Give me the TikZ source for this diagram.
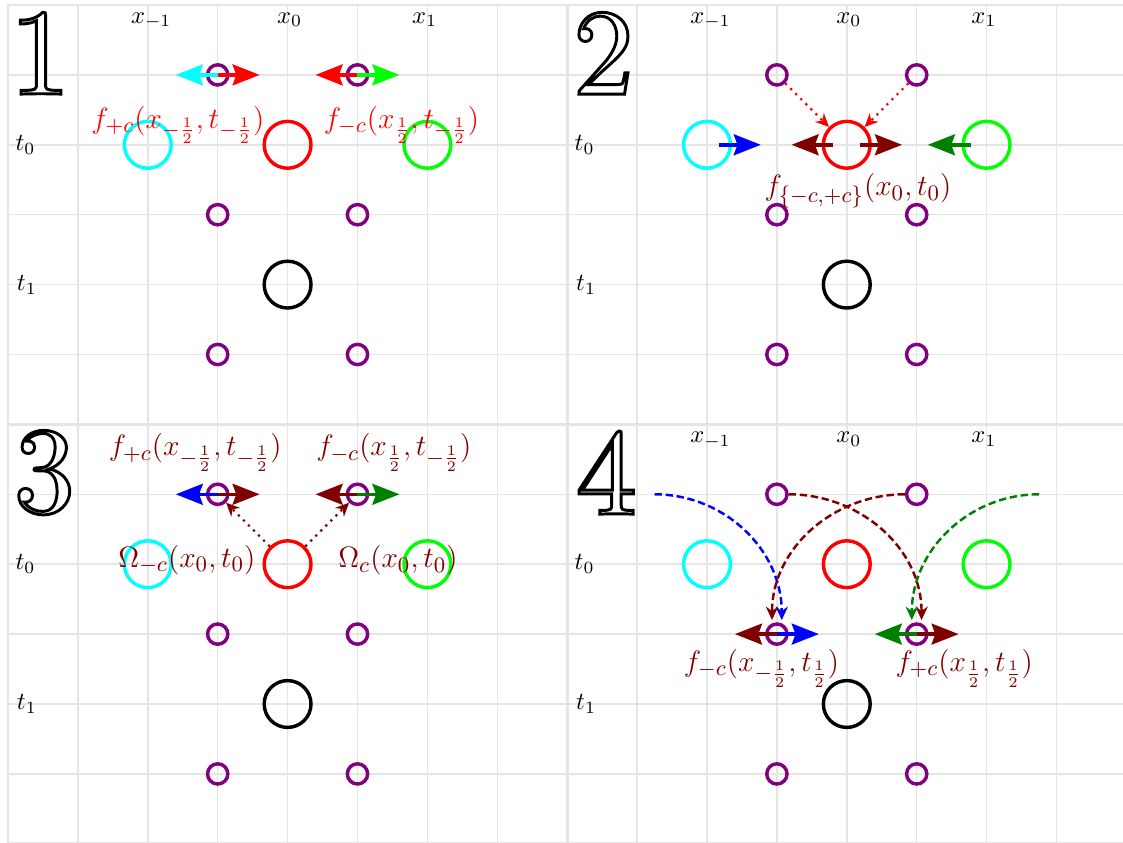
\documentclass[tikz,border=0pt]{standalone}
\usetikzlibrary{arrows.meta}
\usepackage[no-math]{fontspec}
\newfontfamily\digfont{lmroman10-regular.otf}[FakeBold=2.4]
\definecolor{mpurple}{RGB}{128,0,128}
\definecolor{dred}{RGB}{128,0,0}
\definecolor{dgreen}{RGB}{0,128,0}
\definecolor{mcyan}{RGB}{0,255,255}
\definecolor{gridc}{RGB}{229,229,229}
\newcommand\outl[1]{{\digfont\special{pdf:literal 1 g}#1}}
\tikzset{
 gridl/.style={draw=gridc,line width=0.6pt},
 gridb/.style={draw=gridc,line width=1.2pt},
 smallc/.style={circle,draw=mpurple,line width=1.4pt,minimum size=0.29cm,inner sep=0pt},
 bigc/.style={circle,line width=1.4pt,minimum size=0.67cm,inner sep=0pt},
 flux/.style={line width=1.4pt,-{Stealth[length=11pt,width=8.5pt,inset=1.5pt]}},
 dotarr/.style={line width=0.9pt,dotted,-{Stealth[length=5.5pt,width=5pt]}},
 dasharr/.style={line width=1pt,dash pattern=on 3pt off 1.5pt,-{Stealth[length=5.5pt,width=5pt]}},
 flab/.style={font=\fontsize{12.45}{15}\selectfont,anchor=base,inner sep=0pt},
 xlab/.style={anchor=base,inner sep=0pt},
 tlab/.style={inner sep=0pt},
 digit/.style={inner sep=0pt,font=\fontsize{50}{50}\selectfont},
}
\newcommand\panelbase[1]{%
 \draw[gridl] (0,0) grid (8,-6);
 \draw[gridb] (0,0) rectangle (8,-6);
 \node[smallc] (#1p31) at (3,-1) {};
 \node[smallc] (#1p51) at (5,-1) {};
 \node[smallc] (#1p33) at (3,-3) {};
 \node[smallc] (#1p53) at (5,-3) {};
 \node[smallc] (#1p35) at (3,-5) {};
 \node[smallc] (#1p55) at (5,-5) {};
 \node[bigc,draw=mcyan] (#1cy) at (2,-2) {};
 \node[bigc,draw=red] (#1rd) at (4,-2) {};
 \node[bigc,draw=green] (#1gr) at (6,-2) {};
 \node[bigc,draw=black] (#1bk) at (4,-4) {};
 \node[tlab] (#1t0) at (0.25,-2) {$t_0$};
 \node[tlab] (#1t1) at (0.27,-4) {$t_1$};
}
\newcommand\xlabels[1]{%
 \node[xlab] (#1xm) at (2.05,-0.26) {$x_{-1}$};
 \node[xlab] (#1xz) at (4.03,-0.26) {$x_0$};
 \node[xlab] (#1xp) at (5.96,-0.26) {$x_1$};
}
\begin{document}
\begin{tikzpicture}
\useasboundingbox (0,0) rectangle (16.066,-12.06);
% panel 1
\begin{scope}[shift={(0.1144,-0.0715)}]
 \panelbase{a}
 \xlabels{a}
 \coordinate (a31w) at (2.4,-1);
 \coordinate (a31e) at (3.6,-1);
 \coordinate (a51w) at (4.4,-1);
 \coordinate (a51e) at (5.6,-1);
 \draw[flux,mcyan] (ap31.center) -- (a31w);
 \draw[flux,red] (ap31.center) -- (a31e);
 \draw[flux,red] (ap51.center) -- (a51w);
 \draw[flux,green] (ap51.center) -- (a51e);
 \node[flab,text=red] (af1) at (2.43,-1.76) {$f_{+c}(x_{-\frac{1}{2}},t_{-\frac{1}{2}})$};
 \node[flab,text=red] (af2) at (5.63,-1.76) {$f_{-c}(x_{\frac{1}{2}},t_{-\frac{1}{2}})$};
\end{scope}
% panel 2
\begin{scope}[shift={(8.1144,-0.0715)}]
 \panelbase{b}
 \xlabels{b}
 \coordinate (b1s) at (2.17,-2);
 \coordinate (b1e) at (2.77,-2);
 \coordinate (b2s) at (3.8,-2);
 \coordinate (b2e) at (3.21,-2);
 \coordinate (b3s) at (4.19,-2);
 \coordinate (b3e) at (4.79,-2);
 \coordinate (b4s) at (5.78,-2);
 \coordinate (b4e) at (5.16,-2);
 \draw[flux,blue] (b1s) -- (b1e);
 \draw[flux,dred] (b2s) -- (b2e);
 \draw[flux,dred] (b3s) -- (b3e);
 \draw[flux,dgreen] (b4s) -- (b4e);
 \draw[dotarr,red] (bp31) -- (brd);
 \draw[dotarr,red] (bp51) -- (brd);
 \node[flab,text=dred] (bf) at (4.16,-2.73) {$f_{\{-c,+c\}}(x_0,t_0)$};
\end{scope}
% panel 3
\begin{scope}[shift={(0.1144,-6.0715)}]
 \panelbase{c}
 \coordinate (c31w) at (2.4,-1);
 \coordinate (c31e) at (3.6,-1);
 \coordinate (c51w) at (4.4,-1);
 \coordinate (c51e) at (5.6,-1);
 \draw[flux,blue] (cp31.center) -- (c31w);
 \draw[flux,dred] (cp31.center) -- (c31e);
 \draw[flux,dred] (cp51.center) -- (c51w);
 \draw[flux,dgreen] (cp51.center) -- (c51e);
 \draw[dotarr,dred] (crd) -- (cp31);
 \draw[dotarr,dred] (crd) -- (cp51);
 \node[flab,text=dred] (cf1) at (2.68,-0.45) {$f_{+c}(x_{-\frac{1}{2}},t_{-\frac{1}{2}})$};
 \node[flab,text=dred] (cf2) at (5.52,-0.45) {$f_{-c}(x_{\frac{1}{2}},t_{-\frac{1}{2}})$};
 \node[flab,text=dred] (co1) at (2.56,-2.04) {$\Omega_{-c}(x_0,t_0)$};
 \node[flab,text=dred] (co2) at (5.58,-2.05) {$\Omega_{c}(x_0,t_0)$};
\end{scope}
% panel 4
\begin{scope}[shift={(8.1144,-6.0715)}]
 \panelbase{d}
 \xlabels{d}
 \coordinate (d33w) at (2.4,-3);
 \coordinate (d33e) at (3.6,-3);
 \coordinate (d53w) at (4.4,-3);
 \coordinate (d53e) at (5.6,-3);
 \coordinate (dbs) at (1.25,-1);
 \coordinate (dbe) at (3.07,-2.8);
 \coordinate (dgs) at (6.75,-1);
 \coordinate (dge) at (4.93,-2.8);
 \coordinate (dm1e) at (5.07,-2.8);
 \coordinate (dm2e) at (2.93,-2.8);
 \draw[dasharr,blue] (dbs) to[out=0,in=90] (dbe);
 \draw[dasharr,dred] (dp31) to[out=0,in=90] (dm1e);
 \draw[dasharr,dred] (dp51) to[out=180,in=90] (dm2e);
 \draw[dasharr,dgreen] (dgs) to[out=180,in=90] (dge);
 \draw[flux,dred] (dp33.center) -- (d33w);
 \draw[flux,blue] (dp33.center) -- (d33e);
 \draw[flux,dgreen] (dp53.center) -- (d53w);
 \draw[flux,dred] (dp53.center) -- (d53e);
 \node[flab,text=dred] (df1) at (2.78,-3.53) {$f_{-c}(x_{-\frac{1}{2}},t_{\frac{1}{2}})$};
 \node[flab,text=dred] (df2) at (5.68,-3.53) {$f_{+c}(x_{\frac{1}{2}},t_{\frac{1}{2}})$};
\end{scope}
% big outlined panel numbers
\begin{scope}
 \node[digit] (n1) at (0.574,-0.7615) {\outl{1}};
 \node[digit] (n2) at (8.634,-0.7615) {\outl{2}};
 \node[digit] (n3) at (0.634,-6.7615) {\outl{3}};
 \node[digit] (n4) at (8.674,-6.7615) {\outl{4}};
\end{scope}
\end{tikzpicture}
\end{document}
